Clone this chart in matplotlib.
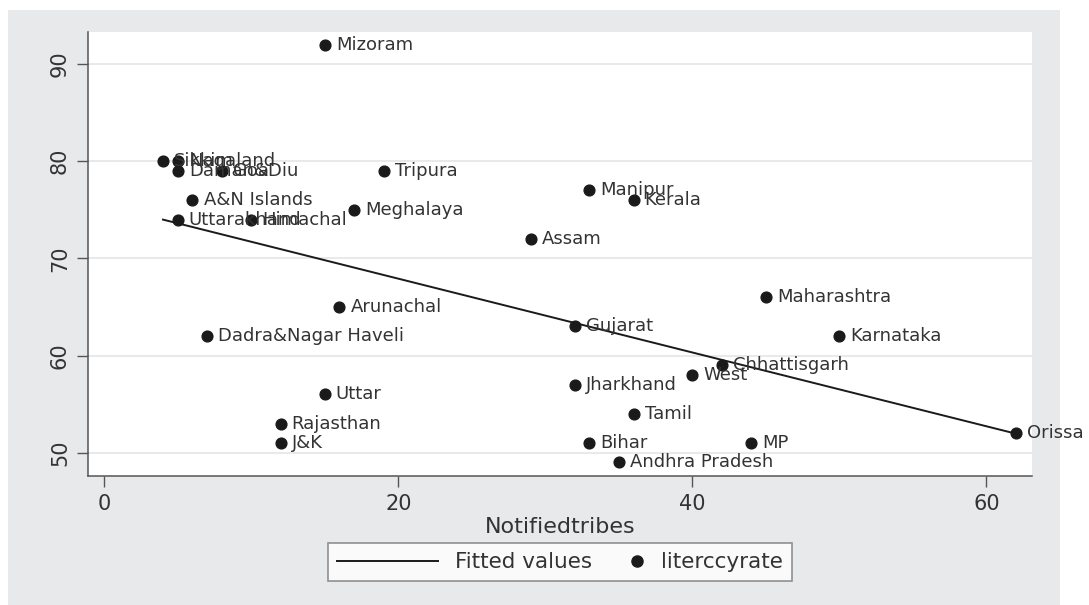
import numpy as np
import matplotlib.pyplot as plt
from matplotlib.patches import Rectangle
from matplotlib.lines import Line2D
from matplotlib.legend_handler import HandlerLine2D

plt.rcParams['font.family'] = ['DejaVu Sans']

states = ["Mizoram", "Sikkim", "Nagaland", "Daman&Diu", "Goa", "Tripura",
          "A&N Islands", "Uttarakhand", "Himachal", "Meghalaya", "Manipur",
          "Kerala", "Assam", "Maharashtra", "Arunachal", "Gujarat",
          "Karnataka", "Dadra&Nagar Haveli", "Chhattisgarh", "West",
          "Jharkhand", "Uttar", "Tamil", "Rajasthan", "J&K", "Bihar", "MP",
          "Andhra Pradesh", "Orissa"]
notified_tribes = [15, 4, 5, 5, 8, 19, 6, 5, 10, 17, 33, 36, 29, 45, 16, 32,
                   50, 7, 42, 40, 32, 15, 36, 12, 12, 33, 44, 35, 62]
literacy_rate = [92, 80, 80, 79, 79, 79, 76, 74, 74, 75, 77, 76, 72, 66, 65,
                 63, 62, 62, 59, 58, 57, 56, 54, 53, 51, 51, 51, 49, 52]

xt = np.array(notified_tribes, dtype=float)
yt = np.array(literacy_rate, dtype=float)

# least squares fit, drawn over the observed range
slope, intercept = np.polyfit(xt, yt, 1)
xfit = np.array([xt.min(), xt.max()])
yfit = intercept + slope * xfit


class RightMarker(HandlerLine2D):
    # put the single marker at the right end of the handle box
    def get_xdata(self, legend, xdescent, ydescent, width, height, fontsize):
        x = -xdescent + width - 0.3 * fontsize
        return np.array([x]), np.array([x])


fig = plt.figure(figsize=(10.89, 6.05), dpi=100)
fig.patch.set_facecolor('white')
fig.patches.append(Rectangle((0.0073, 0.0), 0.966, 0.9835, transform=fig.transFigure,
                             facecolor='#e8e9eb', edgecolor='none', zorder=-10))

ax = fig.add_axes([0.0808, 0.2132, 0.8669, 0.7339])
ax.set_facecolor('white')
ax.set_xlim(-1.1, 63.1)
ax.set_ylim(47.6, 93.3)

ax.set_yticks([50, 60, 70, 80, 90])
ax.set_xticks([0, 20, 40, 60])
ax.grid(axis='y', color='#e6e7e9', linewidth=1.3)
ax.set_axisbelow(True)
for side in ['top', 'right']:
    ax.spines[side].set_visible(False)
for side in ['left', 'bottom']:
    ax.spines[side].set_color('#555555')
    ax.spines[side].set_linewidth(1.1)
ax.tick_params(length=8, width=1.0, color='#555555', labelsize=15,
               labelcolor='#333333', pad=5)
for lab in ax.get_yticklabels():
    lab.set_rotation(90)
    lab.set_va('center')

ax.plot(xfit, yfit, color='#1a1a1a', linewidth=1.4, zorder=2)
ax.scatter(xt, yt, s=60, color='#1a1a1a', zorder=3)
for name, x, y in zip(states, xt, yt):
    ax.annotate(name, (x, y), xytext=(8, 0), textcoords='offset points',
                va='center', ha='left', fontsize=13, color='#333333',
                annotation_clip=False, zorder=4)

ax.set_xlabel('Notifiedtribes', fontsize=16, color='#333333', labelpad=2)

line_h = Line2D([], [], color='#1a1a1a', linewidth=1.4)
dot_h = Line2D([], [], color='#1a1a1a', marker='o', linestyle='none',
               markersize=8)
leg = fig.legend([line_h, dot_h], ['Fitted values', 'literccyrate'],
                 loc='center', bbox_to_anchor=(0.514, 0.071), ncol=2,
                 fontsize=15.5, frameon=True, fancybox=False, handlelength=4.7,
                 columnspacing=-2.3, handletextpad=0.8, borderpad=0.4,
                 handler_map={dot_h: RightMarker(numpoints=1)})
leg.get_frame().set_edgecolor('#777777')
leg.get_frame().set_linewidth(1.2)
leg.get_frame().set_facecolor('white')
for t in leg.get_texts():
    t.set_color('#333333')

fig.savefig('out.png', dpi=100)
